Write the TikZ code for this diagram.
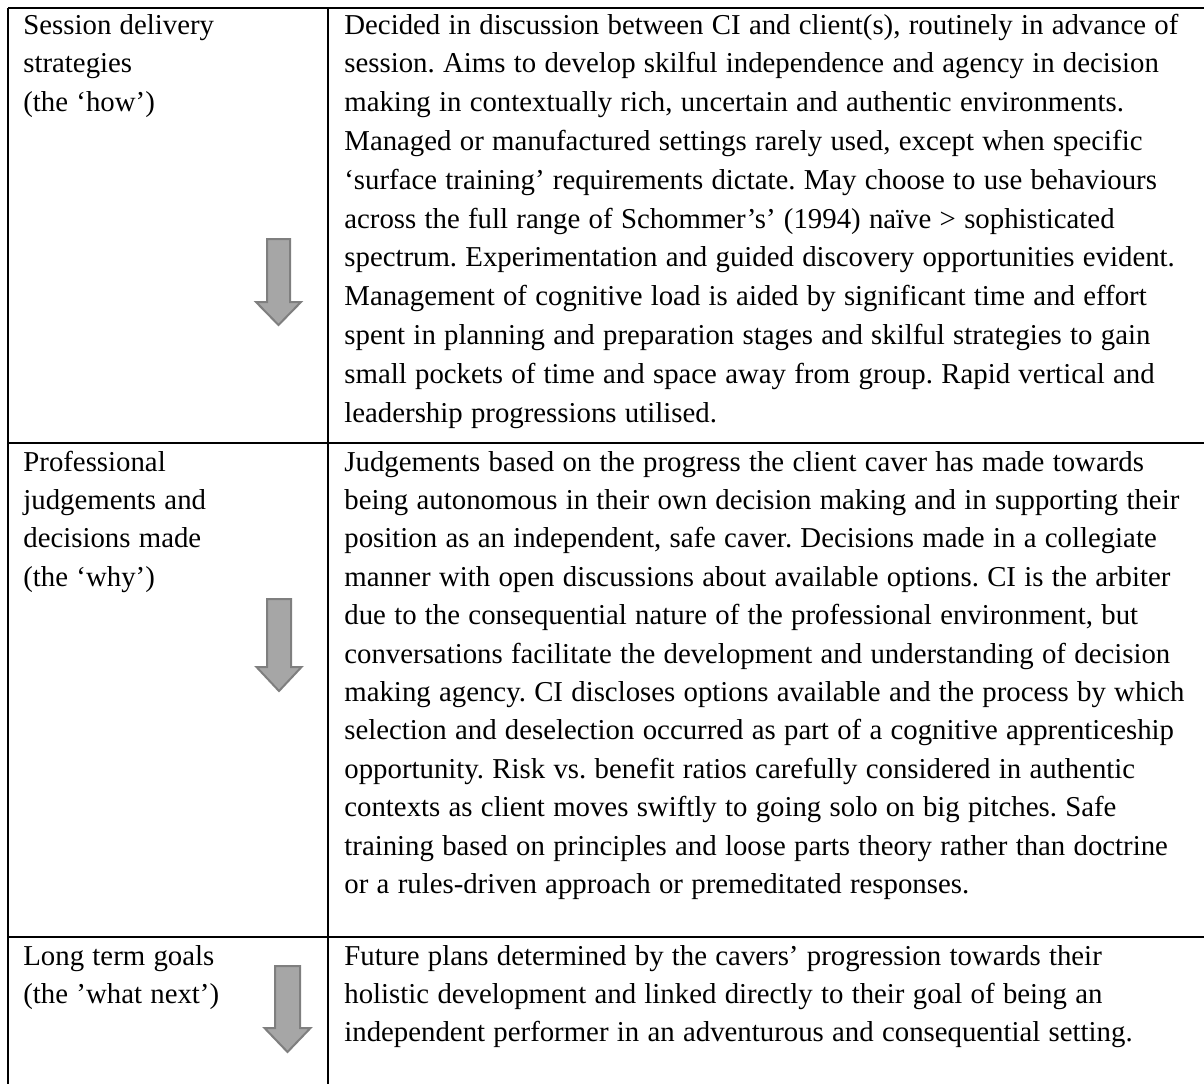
\documentclass[tikz,border=0pt]{standalone}
\usepackage{fontspec}
\setmainfont{Liberation Serif}

\definecolor{arrowfill}{HTML}{A6A6A6}
\definecolor{arrowedge}{HTML}{7F7F7F}

% lines of a cell, set one below the other; the box's baseline is the first line's
\newcommand\celltext[1]{\vtop{\halign{##\hfil\cr#1\crcr}}}
% cell fonts: body size, line pitch, plain word spacing
\newcommand\cellfont{\fontsize{14.4pt}{19.2pt}\selectfont\frenchspacing\spaceskip 4.15pt\relax}
\newcommand\cellfontwide{\fontsize{14.4pt}{19.4pt}\selectfont\frenchspacing\spaceskip 4.15pt\relax}

\tikzset{
  rule/.style={line width=1.3pt, draw=black},
  celltxt/.style={anchor=base west, inner sep=0pt, font=\cellfont},
  widelead/.style={font=\cellfontwide},
  flowarrow/.style={fill=arrowfill, draw=arrowedge, line width=1pt, line join=miter},
}

% downward block arrow: centre x, top y, head y, tip y, half shaft width, half head width
\newcommand\dnarrow[6]{%
  \draw[flowarrow] (#1-#5,#2) -- (#1+#5,#2) -- (#1+#5,#3) -- (#1+#6,#3)
    -- (#1,#4) -- (#1-#6,#3) -- (#1-#5,#3) -- cycle;}

\begin{document}
\begin{tikzpicture}[x=0.5pt, y=-0.5pt]
\useasboundingbox (0,0) rectangle (1204,1084);

% table rules
\draw[rule] (8,8) -- (1204,8);
\draw[rule] (8,8) -- (8,1084);
\draw[rule] (328,8) -- (328,1084);
\draw[rule] (8,443) -- (1204,443);
\draw[rule] (8,937) -- (1204,937);

% row 1
\node[celltxt, widelead] (l1) at (23,34) {\celltext{Session delivery\cr strategies\cr (the ‘how’)}};
\node[celltxt, widelead] (r1) at (344,34) {\celltext{%
Decided in discussion between CI and client(s), routinely in advance of\cr
session. Aims to develop skilful independence and agency in decision\cr
making in contextually rich, uncertain and authentic environments.\cr
Managed or manufactured settings rarely used, except when specific\cr
‘surface training’ requirements dictate. May choose to use behaviours\cr
across the full range of Schommer’s’ (1994) naïve > sophisticated\cr
spectrum. Experimentation and guided discovery opportunities evident.\cr
Management of cognitive load is aided by significant time and effort\cr
spent in planning and preparation stages and skilful strategies to gain\cr
small pockets of time and space away from group. Rapid vertical and\cr
leadership progressions utilised.}};
\dnarrow{278.5}{239}{302}{325}{11.5}{22.5}

% row 2
\node[celltxt] (l2) at (23,471) {\celltext{Professional\cr judgements and\cr decisions made\cr (the ‘why’)}};
\node[celltxt] (r2) at (344,471) {\celltext{%
Judgements based on the progress the client caver has made towards\cr
being autonomous in their own decision making and in supporting their\cr
position as an independent, safe caver. Decisions made in a collegiate\cr
manner with open discussions about available options. CI is the arbiter\cr
due to the consequential nature of the professional environment, but\cr
conversations facilitate the development and understanding of decision\cr
making agency. CI discloses options available and the process by which\cr
selection and deselection occurred as part of a cognitive apprenticeship\cr
opportunity. Risk vs. benefit ratios carefully considered in authentic\cr
contexts as client moves swiftly to going solo on big pitches. Safe\cr
training based on principles and loose parts theory rather than doctrine\cr
or a rules-driven approach or premeditated responses.}};
\dnarrow{279}{599}{667}{691}{12}{22.5}

% row 3
\node[celltxt] (l3) at (23,965) {\celltext{Long term goals\cr (the ’what next’)}};
\node[celltxt] (r3) at (344,965) {\celltext{%
Future plans determined by the cavers’ progression towards their\cr
holistic development and linked directly to their goal of being an\cr
independent performer in an adventurous and consequential setting.}};
\dnarrow{287.5}{966}{1028}{1052}{12.5}{23}
\end{tikzpicture}
\end{document}
